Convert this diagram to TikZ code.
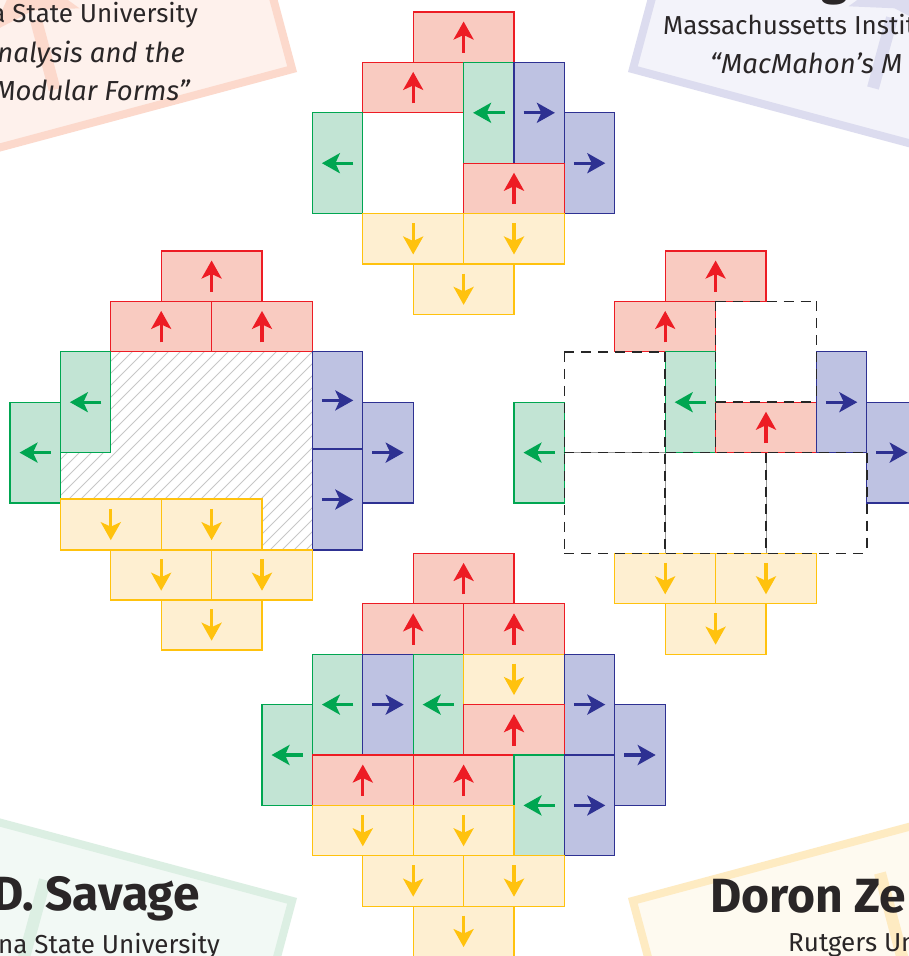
\documentclass[tikz,border=0pt]{standalone}
\usepackage{fontspec}
\setmainfont{Fira Sans}
\usetikzlibrary{arrows.meta}
\definecolor{RF}{HTML}{F9CBC1}\definecolor{RD}{HTML}{ED1C24}
\definecolor{GF}{HTML}{C2E4D4}\definecolor{GD}{HTML}{00A651}
\definecolor{BF}{HTML}{BEC2E2}\definecolor{BD}{HTML}{2E3192}
\definecolor{YF}{HTML}{FEEFD1}\definecolor{YD}{HTML}{FFC20E}
\definecolor{TX}{HTML}{2A2627}
\definecolor{c1F}{HTML}{FEF1EC}\definecolor{c1D}{HTML}{FCD9CC}
\definecolor{c2F}{HTML}{F3F3FA}\definecolor{c2D}{HTML}{DCDCEF}
\definecolor{c3F}{HTML}{F2F9F5}\definecolor{c3D}{HTML}{DCEFE3}
\definecolor{c4F}{HTML}{FEFAF0}\definecolor{c4D}{HTML}{FEEBC2}
\tikzset{
  tile/.style={fill=#1F, draw=#1D, line width=1.3pt},
  arr/.style={draw=#1D, line width=3.2pt, -{Stealth[length=18pt,width=20pt,inset=4.5pt]}},
  hatchline/.style={draw=black!22, line width=0.9pt},
  dsqbase/.style={draw=black!40, line width=0.7pt},
  dsqline/.style={draw=black!85, line width=1.5pt, dash pattern=on 10pt off 7pt},
  card/.style={fill=#1F, draw=#1D, line width=8pt},
  faint/.style={draw=#1D, line width=12pt},
  txt/.style={inner sep=0pt, text=TX, font=\fontsize{26}{30}\selectfont},
  txtit/.style={inner sep=0pt, text=TX, font=\fontsize{27.5}{30}\selectfont\itshape},
  txtbf/.style={inner sep=0pt, text=TX, font=\fontsize{48}{52}\selectfont\bfseries},
}
\newcommand\dom[6]{%
  \filldraw[tile=#5] (#1,#2) rectangle (#3,#4);
  \pgfmathsetmacro\dcx{(#1+#3)/2}%
  \pgfmathsetmacro\dcy{(#2+#4)/2}%
  \ifx u#6\draw[arr=#5] (\dcx,\dcy+15.7) -- (\dcx,\dcy-15.7);\fi
  \ifx d#6\draw[arr=#5] (\dcx,\dcy-15.7) -- (\dcx,\dcy+15.7);\fi
  \ifx l#6\draw[arr=#5] (\dcx+15.7,\dcy) -- (\dcx-15.7,\dcy);\fi
  \ifx r#6\draw[arr=#5] (\dcx-15.7,\dcy) -- (\dcx+15.7,\dcy);\fi
}
\newcommand\gdom[6]{\dom{10+50.4*#1}{\dyo+50.4*#2}{10+50.4*#3}{\dyo+50.4*#4}{#5}{#6}}
% one dashed grid segment from (i1,j1) to (i2,j2)
\newcommand\gseg[4]{%
  \draw[dsqline] (10+50.4*#1,\dyo+50.4*#2) -- (10+50.4*#3,\dyo+50.4*#4);
}
\newcommand\gbase[4]{%
  \draw[dsqbase] (10+50.4*#1,\dyo+50.4*#2) -- (10+50.4*#3,\dyo+50.4*#4);
}
\begin{document}
\begin{tikzpicture}[x=1pt,y=-1pt]
\useasboundingbox (0,0) rectangle (909,956);
\fill[white] (0,0) rectangle (909,956);
% ---------- corner cards ----------
\begin{scope}[shift={(297,72)}, rotate=15]
  \draw[card=c1] (-4,-4) rectangle (-700,-500);
\end{scope}
\begin{scope}[shift={(628,72)}, rotate=-15]
  \draw[card=c2] (4,-4) rectangle (700,-500);
\end{scope}
\begin{scope}[shift={(297,898)}, rotate=-15]
  \draw[card=c3] (-4,4) rectangle (-700,500);
\end{scope}
\begin{scope}[shift={(628,898)}, rotate=15]
  \draw[card=c4] (4,4) rectangle (700,500);
\end{scope}
% faint big arrows
\draw[faint=c1] (54.6,89.6) -- (36,20);
\fill[c1D] (21.8,-33.1) -- (79.5,8.3) -- (33.4,10.3) -- (-7.5,31.7) -- cycle;
\draw[faint=c2] (873,88) -- (892,18);
\fill[c2D] (906.2,-35.1) -- (935.5,29.7) -- (894.6,8.3) -- (848.5,6.3) -- cycle;
\draw[faint=c3] (45,880) -- (22,965);
\draw[faint=c4] (880,873) -- (903,960);
% card texts
\node[txt, anchor=base east] (t1) at (198,22) {a State University};
\node[txtit, anchor=base east] (t2) at (185,62) {nalysis and the};
\node[txtit, anchor=base east] (t3) at (190,100) {Modular Forms”};
\node[txtbf, anchor=base] (t4) at (835,-6) {g};
\node[txt, anchor=base west] (t5) at (663,34) {Massachussetts Institu};
\node[txtit, anchor=base west] (t6) at (710,73) {“MacMahon’s M};
\node[txtbf, anchor=base east] (t7) at (200,910) {D. Savage};
\node[txt, anchor=base east] (t8) at (220,953) {na State University};
\node[txtbf, anchor=base west] (t9) at (710,912) {Doron Ze};
\node[txt, anchor=base west] (t10) at (788,951) {Rutgers Un};
% ---------- top diamond ----------
\def\dyo{12}
\gdom{8}{0}{10}{1}{R}{u}
\gdom{7}{1}{9}{2}{R}{u}
\gdom{9}{1}{10}{3}{G}{l}
\gdom{10}{1}{11}{3}{B}{r}
\gdom{11}{2}{12}{4}{B}{r}
\gdom{6}{2}{7}{4}{G}{l}
\gdom{9}{3}{11}{4}{R}{u}
\gdom{7}{4}{9}{5}{Y}{d}
\gdom{9}{4}{11}{5}{Y}{d}
\gdom{8}{5}{10}{6}{Y}{d}
% ---------- left diamond ----------
\def\dyo{251}
\begin{scope}
  \clip (110.8,351.8) -- (312.4,351.8) -- (312.4,550) -- (262,550) -- (262,499)
        -- (60.4,499) -- (60.4,452.6) -- (110.8,452.6) -- cycle;
  \foreach \c in {400,412,...,880} \draw[hatchline] (\c-570,570) -- (\c-330,330);
\end{scope}
\gdom{3}{0}{5}{1}{R}{u}
\gdom{2}{1}{4}{2}{R}{u}
\gdom{4}{1}{6}{2}{R}{u}
\gdom{1}{2}{2}{4}{G}{l}
\gdom{0}{3}{1}{5}{G}{l}
\dom{312.4}{351.8}{362.8}{449}{B}{r}
\dom{312.4}{449}{362.8}{550}{B}{r}
\gdom{7}{3}{8}{5}{B}{r}
\dom{60.4}{499}{161.2}{550}{Y}{d}
\dom{161.2}{499}{262}{550}{Y}{d}
\dom{110.8}{550}{211.6}{600}{Y}{d}
\dom{211.6}{550}{312.4}{600}{Y}{d}
\dom{161.2}{600}{262}{650}{Y}{d}
% ---------- right diamond ----------
\gdom{13}{0}{15}{1}{R}{u}
\gdom{12}{1}{14}{2}{R}{u}
\gdom{13}{2}{14}{4}{G}{l}
\gdom{14}{3}{16}{4}{R}{u}
\gdom{16}{2}{17}{4}{B}{r}
\gdom{17}{3}{18}{5}{B}{r}
\gdom{10}{3}{11}{5}{G}{l}
\gdom{12}{6}{14}{7}{Y}{d}
\gdom{14}{6}{16}{7}{Y}{d}
\gdom{13}{7}{15}{8}{Y}{d}
% thin solid lines inside the lower blocks
\gbase{11}{4}{13}{4}
\gbase{13}{4}{13}{6}
\gbase{15}{4}{15}{6}
% dashed 2x2 blocks, each edge drawn once
\gseg{14}{1}{16}{1}
\gseg{11}{2}{13}{2}
\gseg{14}{3}{16}{3}
\gseg{11}{4}{17}{4}
\gseg{11}{6}{17}{6}
\gseg{11}{2}{11}{6}
\gseg{13}{2}{13}{6}
\gseg{14}{1}{14}{4}
\gseg{16}{1}{16}{3}
\gseg{15}{4}{15}{6}
\gseg{17}{4}{17}{6}
% ---------- bottom diamond ----------
\def\dyo{553.4}
\gdom{8}{0}{10}{1}{R}{u}
\gdom{7}{1}{9}{2}{R}{u}
\gdom{9}{1}{11}{2}{R}{u}
\gdom{6}{2}{7}{4}{G}{l}
\gdom{7}{2}{8}{4}{B}{r}
\gdom{8}{2}{9}{4}{G}{l}
\gdom{9}{2}{11}{3}{Y}{d}
\gdom{11}{2}{12}{4}{B}{r}
\gdom{5}{3}{6}{5}{G}{l}
\gdom{9}{3}{11}{4}{R}{u}
\gdom{12}{3}{13}{5}{B}{r}
\gdom{6}{4}{8}{5}{R}{u}
\gdom{8}{4}{10}{5}{R}{u}
\gdom{10}{4}{11}{6}{G}{l}
\gdom{11}{4}{12}{6}{B}{r}
\gdom{6}{5}{8}{6}{Y}{d}
\gdom{8}{5}{10}{6}{Y}{d}
\gdom{7}{6}{9}{7}{Y}{d}
\gdom{9}{6}{11}{7}{Y}{d}
\gdom{8}{7}{10}{8}{Y}{d}
\end{tikzpicture}
\end{document}
